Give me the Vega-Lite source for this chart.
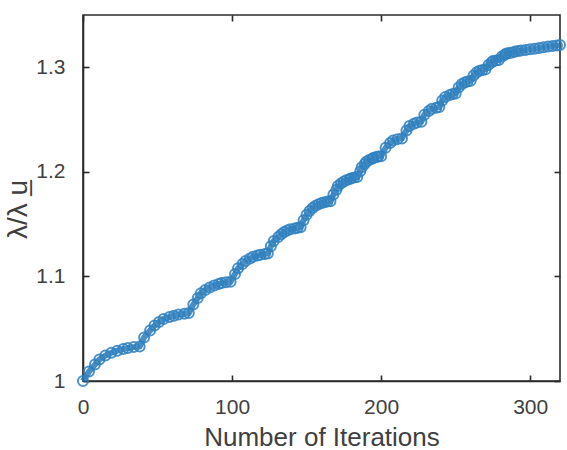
{
  "$schema": "https://vega.github.io/schema/vega-lite/v6.json",
  "width": 477,
  "height": 366,
  "autosize": {"type": "none"},
  "padding": {"left": 83, "top": 15, "right": 7, "bottom": 69},
  "background": "white",
  "config": {
    "view": {"stroke": "#2b2b2b", "strokeWidth": 1.6},
    "font": "Liberation Sans",
    "axis": {
      "grid": false,
      "domainColor": "#2b2b2b",
      "domainWidth": 1.6,
      "tickColor": "#2b2b2b",
      "tickWidth": 1.6,
      "tickSize": -6,
      "labelColor": "#404040",
      "titleColor": "#404040",
      "labelFont": "Liberation Sans",
      "titleFont": "Liberation Sans",
      "labelFontSize": 21,
      "titleFontSize": 26,
      "titleFontWeight": "normal",
      "labelFlush": false,
      "labelOverlap": false
    }
  },
  "data": {"values": [
    {"it":0,"r":1.000},{"it":4,"r":1.009},{"it":8,"r":1.0157},{"it":11,"r":1.0206},{"it":15,"r":1.0243},{"it":19,"r":1.0270},{"it":23,"r":1.0290},{"it":27,"r":1.0305},{"it":30,"r":1.0316},{"it":34,"r":1.0324},
    {"it":38,"r":1.033},{"it":41,"r":1.0417},{"it":45,"r":1.0482},{"it":48,"r":1.0530},{"it":51,"r":1.0565},{"it":54,"r":1.0592},{"it":58,"r":1.0611},{"it":61,"r":1.0625},{"it":64,"r":1.0636},{"it":68,"r":1.0644},
    {"it":71,"r":1.065},{"it":74,"r":1.0732},{"it":77,"r":1.0793},{"it":79,"r":1.0838},{"it":82,"r":1.0871},{"it":85,"r":1.0895},{"it":88,"r":1.0913},{"it":91,"r":1.0927},{"it":93,"r":1.0937},{"it":96,"r":1.0945},
    {"it":99,"r":1.095},{"it":102,"r":1.1024},{"it":104,"r":1.1078},{"it":107,"r":1.1119},{"it":109,"r":1.1148},{"it":112,"r":1.1171},{"it":114,"r":1.1187},{"it":117,"r":1.1199},{"it":119,"r":1.1208},{"it":122,"r":1.1215},
    {"it":124,"r":1.122},{"it":126,"r":1.1288},{"it":128,"r":1.1339},{"it":131,"r":1.1376},{"it":133,"r":1.1404},{"it":135,"r":1.1425},{"it":137,"r":1.1440},{"it":139,"r":1.1451},{"it":142,"r":1.1459},{"it":144,"r":1.1466},
    {"it":146,"r":1.147},{"it":148,"r":1.1538},{"it":150,"r":1.1589},{"it":152,"r":1.1626},{"it":154,"r":1.1654},{"it":156,"r":1.1675},{"it":158,"r":1.1690},{"it":160,"r":1.1701},{"it":162,"r":1.1709},{"it":164,"r":1.1716},
    {"it":166,"r":1.172},{"it":168,"r":1.1783},{"it":170,"r":1.1829},{"it":171,"r":1.1864},{"it":173,"r":1.1889},{"it":175,"r":1.1908},{"it":177,"r":1.1922},{"it":179,"r":1.1932},{"it":180,"r":1.1940},{"it":182,"r":1.1946},
    {"it":184,"r":1.195},{"it":186,"r":1.2005},{"it":187,"r":1.2045},{"it":189,"r":1.2075},{"it":190,"r":1.2097},{"it":192,"r":1.2114},{"it":194,"r":1.2126},{"it":195,"r":1.2135},{"it":197,"r":1.2141},{"it":198,"r":1.2146},
    {"it":200,"r":1.215},{"it":203,"r":1.2231},{"it":206,"r":1.2275},{"it":208,"r":1.2299},{"it":211,"r":1.2313},
    {"it":214,"r":1.232},{"it":217,"r":1.2396},{"it":219,"r":1.2438},{"it":222,"r":1.2460},{"it":224,"r":1.2473},
    {"it":227,"r":1.248},{"it":229,"r":1.2547},{"it":232,"r":1.2583},{"it":234,"r":1.2603},{"it":237,"r":1.2614},
    {"it":239,"r":1.262},{"it":241,"r":1.2682},{"it":243,"r":1.2716},{"it":246,"r":1.2734},{"it":248,"r":1.2744},
    {"it":250,"r":1.275},{"it":252,"r":1.2807},{"it":254,"r":1.2838},{"it":256,"r":1.2855},{"it":258,"r":1.2865},
    {"it":260,"r":1.287},{"it":262,"r":1.2922},{"it":264,"r":1.2951},{"it":266,"r":1.2967},{"it":268,"r":1.2975},
    {"it":270,"r":1.298},{"it":272,"r":1.3023},{"it":274,"r":1.3046},{"it":275,"r":1.3059},{"it":277,"r":1.3066},
    {"it":279,"r":1.307},{"it":281,"r":1.3103},{"it":283,"r":1.3121},{"it":284,"r":1.3131},{"it":286,"r":1.3137},
    {"it":288,"r":1.3142},{"it":290,"r":1.3150},{"it":292,"r":1.3156},{"it":294,"r":1.3160},{"it":297,"r":1.3166},{"it":300,"r":1.3172},{"it":303,"r":1.3178},{"it":306,"r":1.3185},{"it":309,"r":1.3192},{"it":312,"r":1.3198},{"it":315,"r":1.3204},{"it":318,"r":1.3209},{"it":320,"r":1.3212}
  ]},
  "encoding": {
    "x": {"field": "it", "type": "quantitative", "scale": {"domain": [0, 320], "nice": false, "zero": false}},
    "y": {"field": "r", "type": "quantitative", "scale": {"domain": [1, 1.35], "nice": false, "zero": false}}
  },
  "layer": [
    {
      "mark": {"type": "line", "color": "#2a7ab9", "strokeWidth": 6, "opacity": 0.85, "clip": false},
      "encoding": {
        "x": {"field": "it", "type": "quantitative", "axis": {"orient": "top", "values": [0, 100, 200, 300], "labels": false, "domain": false, "title": null}},
        "y": {"field": "r", "type": "quantitative", "axis": {"orient": "right", "values": [1, 1.1, 1.2, 1.3], "labels": false, "domain": false, "title": null}}
      }
    },
    {
      "mark": {"type": "point", "shape": "circle", "filled": false, "color": "#2f80c0", "size": 100, "strokeWidth": 2, "opacity": 0.85, "clip": false},
      "encoding": {
        "x": {"field": "it", "type": "quantitative", "axis": {"orient": "bottom", "values": [0, 100, 200, 300], "title": "Number of Iterations", "labelPadding": 21, "titlePadding": 7}},
        "y": {"field": "r", "type": "quantitative", "axis": {"orient": "left", "values": [1, 1.1, 1.2, 1.3], "format": ".1~f", "title": "λ/λ u̲", "titleFontSize": 28, "titleY": 194, "labelPadding": 24, "titlePadding": 3}}
      }
    }
  ],
  "resolve": {"axis": {"x": "independent", "y": "independent"}}
}
